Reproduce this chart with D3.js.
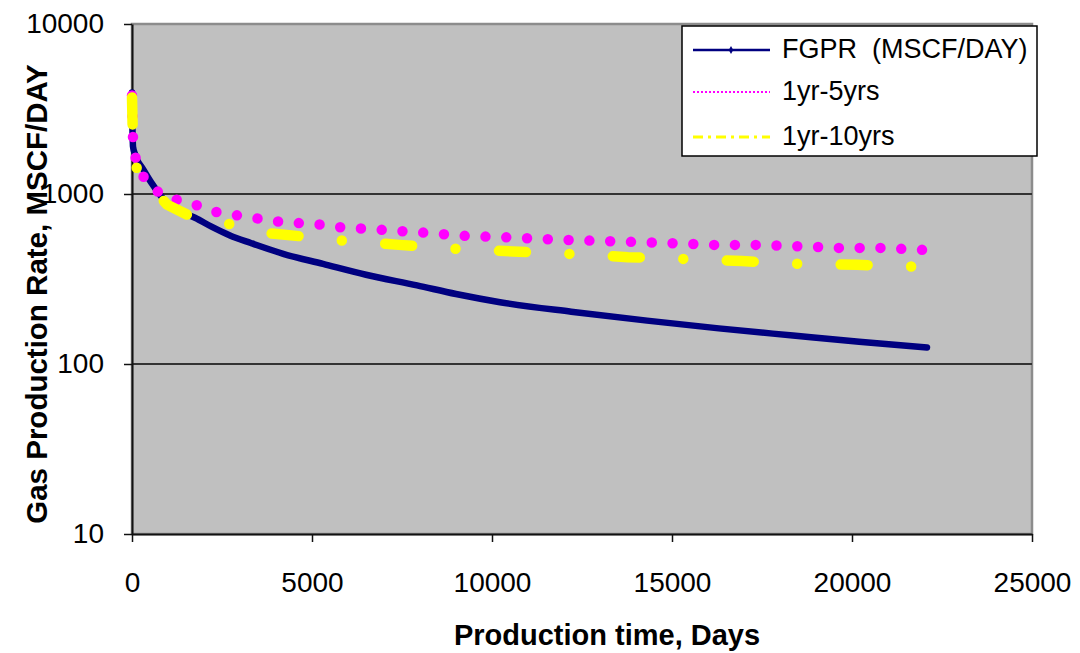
<!DOCTYPE html>
<html>
<head>
<meta charset="utf-8">
<script src="https://cdn.jsdelivr.net/npm/d3@7"></script>
<style>
  html, body { margin: 0; padding: 0; background: #ffffff; }
  svg { display: block; }
  text { font-family: Arial, "Liberation Sans", sans-serif; }
</style>
</head>
<body>
<svg id="chart" width="1080" height="653"></svg>
<script>
// ---------------- data ----------------
const seriesNames = ["FGPR  (MSCF/DAY)", "1yr-5yrs", "1yr-10yrs"];
const seriesColors = ["#000080", "#ff00ff", "#ffff00"];

const xTicks = [0, 5000, 10000, 15000, 20000, 25000];
const yTicks = [10, 100, 1000, 10000];

// FGPR actual (days, MSCF/DAY)
const fgprDays = [0, 3, 8, 15, 28, 83, 160, 278, 556, 833, 1278, 1750, 2222, 2722, 3300, 4200, 5306, 6500, 7917, 9000, 10222, 12200, 14306, 16300, 18361, 20200, 22083];
const fgprRate = [3950, 3300, 2700, 2300, 1900, 1720, 1560, 1430, 1150, 955, 800, 725, 640, 570, 515, 445, 388, 335, 290, 258, 231, 203, 180, 162, 147, 135, 125];

// 1yr-5yrs forecast
const fit5Days = [0, 28, 111, 361, 778, 1306, 1833, 2389, 2972, 3528, 4083, 4639, 5222, 5806, 6944, 8083, 9250, 10389, 11528, 12694, 13861, 15028, 16167, 17361, 18500, 19639, 20806, 21972, 22100];
const fit5Rate = [3800, 2113, 1570, 1213, 1005, 914, 854, 777, 746, 716, 688, 674, 661, 637, 615, 593, 567, 556, 542, 532, 523, 513, 502, 502, 493, 482, 482, 469, 468];

// 1yr-10yrs forecast
const fit10Days = [0, 20, 139, 972, 1583, 2778, 3889, 4639, 5861, 7417, 9000, 10583, 12194, 13778, 15361, 16944, 18528, 20139, 21722, 22100];
const fit10Rate = [3700, 2355, 1371, 866, 746, 661, 585, 565, 532, 502, 476, 459, 444, 425, 415, 403, 388, 383, 374, 371];

// ---------------- chart ----------------
const svg = d3.select("#chart");
const L = 132, R = 1032, T = 24, B = 534;

const x = d3.scaleLinear().domain([0, 25000]).range([L, R]);
const y = d3.scaleLog().domain([10, 10000]).range([B, T]);

// plot area
svg.append("rect")
  .attr("x", L).attr("y", T).attr("width", R - L).attr("height", B - T)
  .attr("fill", "#c0c0c0").attr("stroke", "#8c8c8c").attr("stroke-width", 2.5);

// gridlines
svg.append("g").selectAll("line")
  .data(yTicks.filter(d => d > 10 && d < 10000))
  .join("line")
  .attr("x1", L).attr("x2", R)
  .attr("y1", d => y(d)).attr("y2", d => y(d))
  .attr("stroke", "#333333").attr("stroke-width", 2);

// axes
const xAxis = svg.append("g")
  .attr("transform", `translate(0,${B})`)
  .call(d3.axisBottom(x).tickValues(xTicks).tickFormat(d3.format("d"))
    .tickSize(8).tickSizeOuter(0).tickPadding(30));
const yAxis = svg.append("g")
  .attr("transform", `translate(${L},0)`)
  .call(d3.axisLeft(y).tickValues(yTicks).tickFormat(d3.format("d"))
    .tickSize(8).tickSizeOuter(0).tickPadding(20));

[xAxis, yAxis].forEach(g => {
  g.select(".domain").attr("stroke", "#111").attr("stroke-width", 2);
  g.selectAll(".tick line").attr("stroke", "#111").attr("stroke-width", 1.5);
  g.selectAll(".tick text").attr("fill", "#000").style("font-size", "28px")
    .style("font-family", "Arial, 'Liberation Sans', sans-serif");
});

// series
const line = d3.line().x(d => x(d[0])).y(d => y(d[1]));
const smoothLine = d3.line().x(d => x(d[0])).y(d => y(d[1])).curve(d3.curveMonotoneX);
const fgpr = fgprDays.map((d, i) => [d, fgprRate[i]]);
const fit5 = fit5Days.map((d, i) => [d, fit5Rate[i]]);
const fit10 = fit10Days.map((d, i) => [d, fit10Rate[i]]);

svg.append("path").datum(fgpr)
  .attr("d", smoothLine).attr("fill", "none")
  .attr("stroke", seriesColors[0]).attr("stroke-width", 6.5)
  .attr("stroke-linejoin", "round").attr("stroke-linecap", "round");

svg.append("path").datum(fit5)
  .attr("d", line).attr("fill", "none")
  .attr("stroke", seriesColors[1]).attr("stroke-width", 10.5)
  .attr("stroke-linecap", "round").attr("stroke-linejoin", "round")
  .attr("stroke-dasharray", "0,20.8");

svg.append("path").datum(fit10)
  .attr("d", line).attr("fill", "none")
  .attr("stroke", seriesColors[2]).attr("stroke-width", 10.5)
  .attr("stroke-linecap", "round").attr("stroke-linejoin", "round")
  .attr("stroke-dasharray", "27,43.5,0,43.5");

// legend
const lg = svg.append("g");
lg.append("rect").attr("x", 682).attr("y", 26).attr("width", 355).attr("height", 130)
  .attr("fill", "#ffffff").attr("stroke", "#000").attr("stroke-width", 1.5);
const rowsY = [50, 92, 137];
const legendStyles = [
  { w: 2.5, dash: null },
  { w: 2, dash: "2,2" },
  { w: 3, dash: "10,5,3,5" }
];
seriesNames.forEach((name, i) => {
  lg.append("line").attr("x1", 693).attr("x2", 770)
    .attr("y1", rowsY[i]).attr("y2", rowsY[i])
    .attr("stroke", seriesColors[i]).attr("stroke-width", legendStyles[i].w)
    .attr("stroke-dasharray", legendStyles[i].dash);
  lg.append("text").attr("x", 782).attr("y", rowsY[i] + 8)
    .attr("xml:space", "preserve").style("white-space", "pre")
    .style("font-size", "27px").attr("fill", "#000").text(name);
});
lg.append("path")
  .attr("transform", `translate(731,${rowsY[0]})`)
  .attr("d", d3.symbol(d3.symbolDiamond, 18)())
  .attr("fill", seriesColors[0]);

// axis titles
svg.append("text")
  .attr("x", (L + R) / 2 + 25).attr("y", 645)
  .attr("text-anchor", "middle")
  .style("font-size", "29px").style("font-weight", "bold")
  .text("Production time, Days");

svg.append("text")
  .attr("transform", `translate(47,${294}) rotate(-90)`)
  .attr("text-anchor", "middle")
  .style("font-size", "29.5px").style("font-weight", "bold")
  .text("Gas Production Rate, MSCF/DAY");
</script>
</body>
</html>
